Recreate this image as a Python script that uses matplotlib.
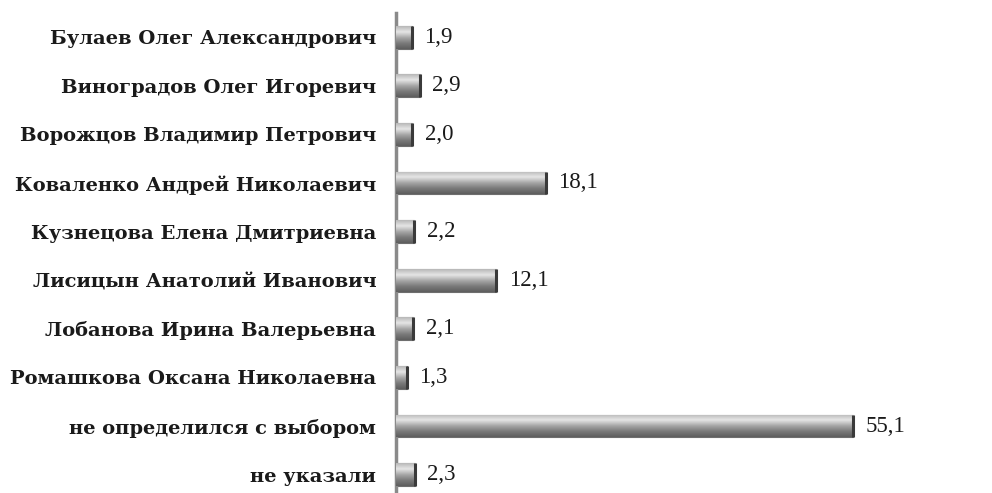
import matplotlib
matplotlib.use("Agg")
import matplotlib.pyplot as plt
import numpy as np
from matplotlib.colors import LinearSegmentedColormap

categories = [
    "Булаев Олег Александрович",
    "Виноградов Олег Игоревич",
    "Ворожцов Владимир Петрович",
    "Коваленко Андрей Николаевич",
    "Кузнецова Елена Дмитриевна",
    "Лисицын Анатолий Иванович",
    "Лобанова Ирина Валерьевна",
    "Ромашкова Оксана Николаевна",
    "не определился с выбором",
    "не указали",
]
values = [1.9, 2.9, 2.0, 18.1, 2.2, 12.1, 2.1, 1.3, 55.1, 2.3]
value_labels = ["1,9", "2,9", "2,0", "18,1", "2,2", "12,1", "2,1", "1,3", "55,1", "2,3"]

fig = plt.figure(figsize=(9.92, 4.93), dpi=100)
ax = fig.add_axes([0.399, -0.012, 0.502, 0.986])

y = np.arange(len(categories))
bars = ax.barh(y, values, height=0.47, color="#9a9a9a", edgecolor="#6e6e6e", linewidth=0.8, zorder=2)

cmap = LinearSegmentedColormap.from_list("cyl", ["#b8b8b8", "#e6e6e6", "#a8a8a8", "#7a7a7a", "#5e5e5e"])
grad = np.linspace(0, 1, 64).reshape(-1, 1)
for b in bars:
    x0, y0, w, h = b.get_x(), b.get_y(), b.get_width(), b.get_height()
    im = ax.imshow(grad, extent=[x0, x0 + w, y0 + h, y0], aspect="auto", cmap=cmap, zorder=3, interpolation="bilinear")
    im.set_clip_path(b)
    ax.plot([x0 + w, x0 + w], [y0, y0 + h], color="#3a3a3a", lw=2.2, zorder=4, solid_capstyle="butt")

for yi, v, lab in zip(y, values, value_labels):
    ax.annotate(lab, (v, yi), xytext=(9, 0), textcoords="offset points", va="center", ha="left",
                fontsize=16.5, family="Liberation Serif", color="#1a1a1a")

ax.set_xlim(0, 60)
ax.set_ylim(len(categories) - 0.5, -0.5)
ax.set_yticks(y)
ax.set_yticklabels(categories, fontsize=14, family="DejaVu Serif", fontweight="bold", color="#1a1a1a")
ax.tick_params(axis="y", length=0, pad=14)
ax.set_xticks([])
for s in ["top", "right", "bottom"]:
    ax.spines[s].set_visible(False)
ax.spines["left"].set_color("#8a8a8a")
ax.spines["left"].set_linewidth(2.5)

fig.savefig("out.png", dpi=100)
